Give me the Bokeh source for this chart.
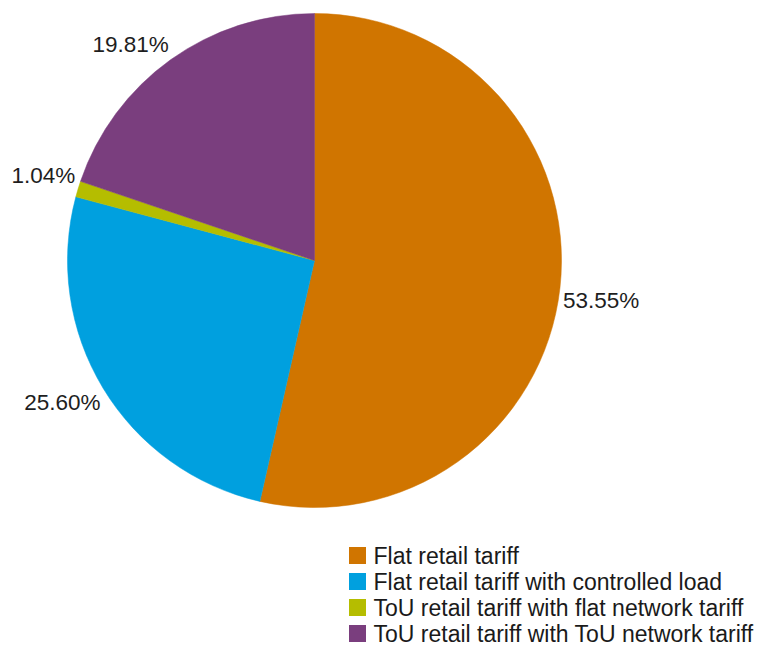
import math
from bokeh.plotting import figure
from bokeh.models import ColumnDataSource
from bokeh.core.properties import value
from bokeh.embed import file_html
from bokeh.resources import INLINE

categories = [
    "Flat retail tariff",
    "Flat retail tariff with controlled load",
    "ToU retail tariff with flat network tariff",
    "ToU retail tariff with ToU network tariff",
]
shares = [53.55, 25.60, 1.04, 19.81]
labels = ["53.55%", "25.60%", "1.04%", "19.81%"]
colors = ["#D07500", "#00A0DF", "#B5BD00", "#7A3E7E"]

W, H = 760, 646
CX, CY, R = 314, H - 260, 247

p = figure(width=W, height=H, x_range=(0, W), y_range=(0, H),
           output_backend="svg", toolbar_location=None, min_border=0)
p.axis.visible = False
p.grid.visible = False
p.outline_line_color = None
p.background_fill_color = "white"

total = sum(shares)
starts, ends, lx, ly, aligns, bases = [], [], [], [], [], []
cum = 0.0
for s in shares:
    a0 = math.pi / 2 - 2 * math.pi * cum / total
    cum += s
    a1 = math.pi / 2 - 2 * math.pi * cum / total
    starts.append(a0)
    ends.append(a1)
    mid = (a0 + a1) / 2
    rr = R + 3
    lx.append(CX + rr * math.cos(mid))
    ly.append(CY + rr * math.sin(mid))
    aligns.append("left" if math.cos(mid) >= 0 else "right")
    bases.append("bottom" if math.sin(mid) >= 0 else "top")

src = ColumnDataSource(dict(start=starts, end=ends, color=colors, cat=categories))
p.wedge(x=CX, y=CY, radius=R, start_angle="start", end_angle="end",
        direction="clock", fill_color="color", line_color="color", line_width=0.5,
        source=src)

lsrc = ColumnDataSource(dict(x=lx, y=ly, text=labels, align=aligns, base=bases))
p.text(x="x", y="y", text="text", text_align="align", text_baseline="base",
       text_font=value("Liberation Sans"), text_font_size="22.5px",
       text_color="#1e1e1e", source=lsrc)

# legend
lg_x, lg_y0, lg_step = 357, H - 555, 26
ys = [lg_y0 - i * lg_step for i in range(len(categories))]
p.rect(x=[lg_x] * len(categories), y=ys, width=17, height=17,
       fill_color=colors, line_color=None)
p.text(x=[lg_x + 16] * len(categories), y=ys, text=categories,
       text_align="left", text_baseline="middle",
       text_font=value("Liberation Sans"), text_font_size="23px",
       text_color="#1a1a1a")

open("out.html", "w").write(file_html(p, INLINE))
